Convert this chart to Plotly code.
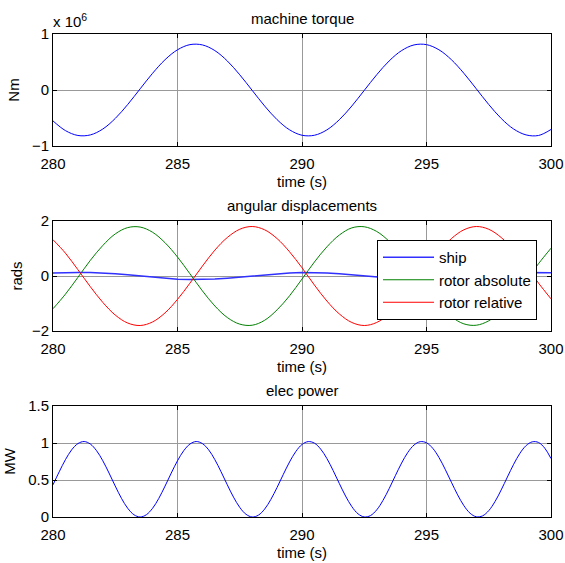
import plotly.graph_objects as go

# ---------------- data ----------------
t_half = [280 + 0.5 * i for i in range(41)]          # 0.5 s sampling
t_quarter = [280 + 0.25 * i for i in range(81)]      # 0.25 s sampling

torque_1e6 = [-0.552, -0.725, -0.812, -0.802, -0.697, -0.508, -0.259, 0.021, 0.299, 0.541,
              0.718, 0.810, 0.805, 0.704, 0.519, 0.272, -0.007, -0.286, -0.530, -0.711,
              -0.808, -0.808, -0.712, -0.530, -0.286, -0.007, 0.272, 0.519, 0.704, 0.805,
              0.810, 0.718, 0.541, 0.299, 0.021, -0.259, -0.508, -0.697, -0.802, -0.812,
              -0.705]

ship = [0.110, 0.125, 0.129, 0.127, 0.110, 0.081, 0.041, -0.003, -0.047, -0.086,
        -0.114, -0.128, -0.128, -0.112, -0.082, -0.043, 0.001, 0.045, 0.084, 0.113,
        0.128, 0.128, 0.113, 0.084, 0.045, 0.001, -0.043, -0.082, -0.112, -0.128,
        -0.128, -0.114, -0.086, -0.047, -0.003, 0.041, 0.081, 0.110, 0.127, 0.129,
        0.115]

rotor_absolute = [-1.19, -0.66, -0.05, 0.57, 1.11, 1.53, 1.76, 1.78, 1.59, 1.21,
                  0.69, 0.08, -0.54, -1.09, -1.51, -1.75, -1.79, -1.61, -1.23, -0.72,
                  -0.11, 0.51, 1.06, 1.49, 1.75, 1.79, 1.62, 1.26, 0.74, 0.14,
                  -0.48, -1.04, -1.48, -1.74, -1.79, -1.63, -1.28, -0.77, -0.17, 0.45,
                  1.01]

rotor_relative = [1.32, 0.83, 0.23, -0.39, -0.96, -1.42, -1.71, -1.80, -1.67, -1.34,
                  -0.85, -0.26, 0.36, 0.94, 1.40, 1.70, 1.80, 1.68, 1.36, 0.88,
                  0.30, -0.33, -0.91, -1.38, -1.69, -1.80, -1.69, -1.38, -0.91, -0.33,
                  0.30, 0.88, 1.36, 1.68, 1.80, 1.70, 1.40, 0.94, 0.36, -0.26,
                  -0.83]

elec_power = [0.435, 0.611, 0.775, 0.908, 0.992, 1.020, 0.986, 0.896, 0.760, 0.594,
              0.418, 0.252, 0.118, 0.031, 0.000, 0.031, 0.118, 0.252, 0.418, 0.594,
              0.760, 0.896, 0.986, 1.020, 0.992, 0.908, 0.775, 0.611, 0.435, 0.268,
              0.130, 0.037, 0.000, 0.025, 0.107, 0.238, 0.400, 0.576, 0.744, 0.884,
              0.980, 1.019, 0.998, 0.918, 0.790, 0.628, 0.452, 0.283, 0.141, 0.043,
              0.001, 0.019, 0.096, 0.223, 0.383, 0.559, 0.729, 0.873, 0.973, 1.018,
              1.003, 0.929, 0.805, 0.645, 0.470, 0.299, 0.154, 0.051, 0.003, 0.015,
              0.086, 0.208, 0.366, 0.541, 0.712, 0.860, 0.965, 1.016, 1.007, 0.930,
              0.790]

x_ticks = [280, 285, 290, 295, 300]
y1_ticks = [-1, 0, 1]
y2_ticks = [-2, 0, 2]
y3_ticks = [0, 0.5, 1, 1.5]
y3_ticklabels = ["0", "0.5", "1", "1.5"]

# ---------------- figure ----------------
W, H = 565, 563
L, R, T, B = 53, 551, 34, 517          # plot-area pixel box
PW, PH = R - L, B - T
FONT = "Liberation Sans, Arial, sans-serif"
FS = 15

def xp(px):
    return (px - L) / PW

def yp(py):
    return (B - py) / PH

def ydom(top, bottom):
    return [yp(bottom), yp(top)]

fig = go.Figure()

fig.add_trace(go.Scatter(x=t_half, y=torque_1e6, mode="lines",
                         line=dict(color="#0000FF", width=1, shape="spline"),
                         xaxis="x", yaxis="y", showlegend=False))
fig.add_trace(go.Scatter(x=t_half, y=ship, mode="lines", name="ship", legendgroup="a",
                         line=dict(color="#3030FF", width=1.5), xaxis="x2", yaxis="y2"))
fig.add_trace(go.Scatter(x=t_half, y=rotor_absolute, mode="lines", name="rotor absolute", legendgroup="b",
                         line=dict(color="#008000", width=1, shape="spline"), xaxis="x2", yaxis="y2"))
fig.add_trace(go.Scatter(x=t_half, y=rotor_relative, mode="lines", name="rotor relative", legendgroup="c",
                         line=dict(color="#FF0000", width=1, shape="spline"), xaxis="x2", yaxis="y2"))
fig.add_trace(go.Scatter(x=t_quarter, y=elec_power, mode="lines",
                         line=dict(color="#0000FF", width=1, shape="spline"),
                         xaxis="x3", yaxis="y3", showlegend=False))

common_x = dict(range=[280, 300], tickvals=x_ticks, ticks="inside", ticklen=4, tickcolor="black",
                showline=True, linecolor="black", linewidth=1, mirror="ticks",
                showgrid=True, gridcolor="#999999", gridwidth=1, zeroline=False,
                tickfont=dict(size=FS, color="black", family=FONT), automargin=False,
                ticklabelstandoff=4,
                title=dict(text="time (s)", font=dict(size=FS, color="black", family=FONT), standoff=5),
                domain=[0, 1], fixedrange=True)
common_y = dict(ticks="inside", ticklen=4, tickcolor="black",
                showline=True, linecolor="black", linewidth=1, mirror="ticks",
                showgrid=True, gridcolor="#999999", gridwidth=1, zeroline=False, automargin=False,
                tickfont=dict(size=FS, color="black", family=FONT), fixedrange=True)

fig.update_layout(
    width=W, height=H, autosize=False,
    margin=dict(l=L, r=W - R, t=T, b=H - B, pad=0),
    paper_bgcolor="white", plot_bgcolor="white",
    font=dict(family=FONT, size=FS, color="black"),
    xaxis=dict(common_x, anchor="y"),
    xaxis2=dict(common_x, anchor="y2"),
    xaxis3=dict(common_x, anchor="y3"),
    yaxis=dict(common_y, range=[-1, 1], tickvals=y1_ticks, domain=ydom(34, 146), anchor="x",
               title=dict(text="Nm", font=dict(size=FS, family=FONT), standoff=8)),
    yaxis2=dict(common_y, range=[-2, 2], tickvals=y2_ticks, domain=ydom(221, 331), anchor="x2",
                title=dict(text="rads", font=dict(size=FS, family=FONT), standoff=5)),
    yaxis3=dict(common_y, range=[0, 1.5], tickvals=y3_ticks, ticktext=y3_ticklabels,
                domain=ydom(406, 517), anchor="x3",
                title=dict(text="MW", font=dict(size=FS, family=FONT), standoff=8)),
    legend=dict(x=xp(377), y=yp(240), xanchor="left", yanchor="top",
                bgcolor="white", bordercolor="black", borderwidth=1, itemwidth=51,
                font=dict(size=FS, family=FONT, color="black"), tracegroupgap=0),
    showlegend=True,
)

titles = [("machine torque", 18), ("angular displacements", 205), ("elec power", 390)]
for txt, ypx in titles:
    fig.add_annotation(text=txt, x=xp(302), y=yp(ypx), xref="paper", yref="paper",
                       showarrow=False, xanchor="center", yanchor="middle",
                       font=dict(size=FS, family=FONT, color="black"))

fig.add_annotation(text="x 10<sup>6</sup>", x=xp(51), y=yp(20), xref="paper", yref="paper",
                   showarrow=False, xanchor="left", yanchor="middle",
                   font=dict(size=FS, family=FONT, color="black"))

fig.write_html("out.html")
